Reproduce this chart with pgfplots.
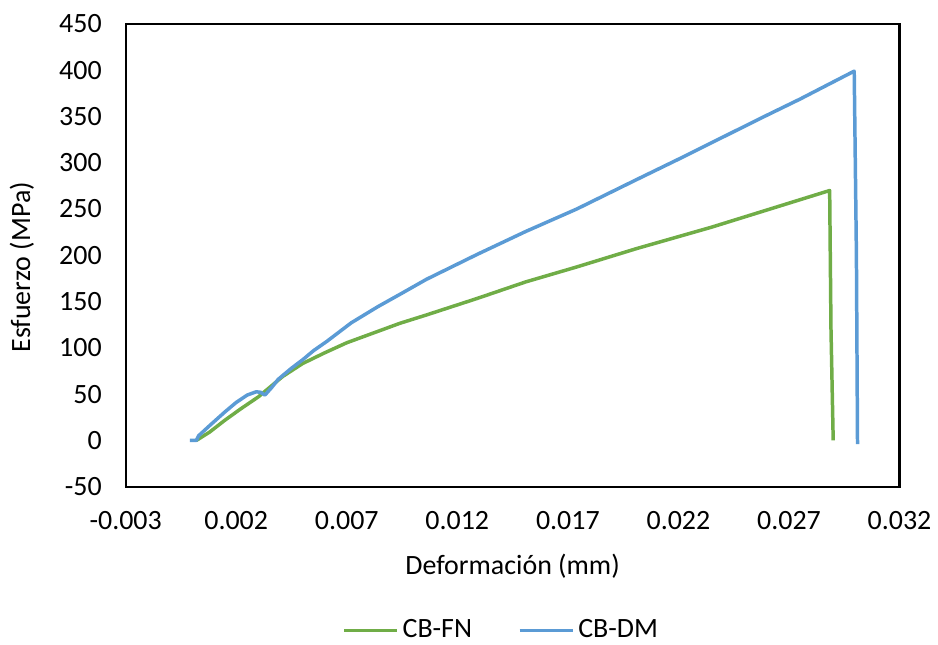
\documentclass[border=0pt]{standalone}
\usepackage{pgfplots}
\pgfplotsset{compat=1.18}
\usepackage{fontspec}
\setmainfont{Carlito}
\definecolor{cgreen}{RGB}{112,173,71}
\definecolor{cblue}{RGB}{91,155,213}
\begin{document}
\begin{tikzpicture}
\path (-63pt,-77.5pt) rectangle (406pt,244pt);
\begin{axis}[
  at={(0,0)}, anchor=south west,
  scale only axis, width=388pt, height=232pt,
  xmin=-0.003, xmax=0.032, ymin=-50, ymax=450,
  scaled x ticks=false,
  xtick={-0.003,0.002,0.007,0.012,0.017,0.022,0.027,0.032},
  xticklabels={-0.003,0.002,0.007,0.012,0.017,0.022,0.027,0.032},
  ytick={-50,0,50,100,150,200,250,300,350,400,450},
  /pgf/number format/assume math mode=true,
  major tick length=0pt,
  tick label style={font=\fontsize{14}{16}\selectfont},
  xticklabel style={yshift=-9pt},
  yticklabel style={xshift=-8.5pt},
  axis line style={line width=1.1pt},
  xlabel={Deformación (mm)}, ylabel={Esfuerzo (MPa)},
  label style={font=\fontsize{14}{16}\selectfont},
  xlabel style={at={(axis description cs:0.5,0)}, anchor=center, yshift=-40pt},
  ylabel style={at={(axis description cs:-0.134,0.474)}, anchor=center},
  legend style={draw=none, at={(0.4865,-0.3103)}, anchor=center, font=\fontsize{14}{16}\selectfont, legend columns=2, /tikz/every even column/.append style={column sep=21pt}, inner sep=0pt},
  legend image code/.code={\draw[#1] (0pt,0pt) -- (26.5pt,0pt);},
  legend cell align=left,
]
\addplot[cgreen, line width=1.75pt, line join=round] coordinates {
(0.0002,0) (0.0008,9) (0.0015,22) (0.0022,34) (0.0030,47) (0.0035,57) (0.0041,69)
(0.0050,83) (0.0060,94.6) (0.0070,105.5) (0.0082,116) (0.0094,126.5) (0.0106,135.5)
(0.0129,153.4) (0.0151,171.3) (0.0174,187.4) (0.0201,207.2) (0.0235,230.4)
(0.02884,270) (0.0289,120) (0.0290,0)
};
\addlegendentry{CB-FN}
\addplot[cblue, line width=1.75pt, line join=round] coordinates {
(-0.0001,0) (0.0002,0) (0.0003,5) (0.0008,16) (0.0015,31) (0.0020,41) (0.0025,49)
(0.0029,52.5) (0.0031,52) (0.0033,49) (0.0036,57) (0.0039,66) (0.0045,78) (0.0050,87)
(0.0055,97) (0.0061,107) (0.0072,127) (0.0084,144.4) (0.0095,159.1) (0.0106,174)
(0.0129,201) (0.0151,225.8) (0.0174,250) (0.0201,281.7) (0.0220,303.8) (0.0239,326.4)
(0.0258,349) (0.0275,368.8) (0.02995,399) (0.03005,200) (0.0301,-4)
};
\addlegendentry{CB-DM}
\end{axis}
\end{tikzpicture}
\end{document}
